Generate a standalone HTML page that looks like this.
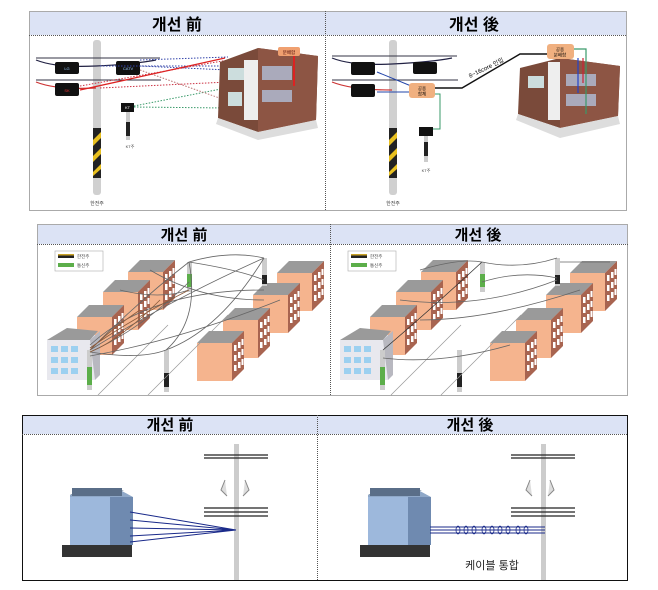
<!DOCTYPE html>
<html><head><meta charset="utf-8"><style>
html,body{margin:0;padding:0;background:#fff;}
svg{display:block;font-family:"Liberation Sans","Noto Sans CJK KR",sans-serif;}
</style></head><body>
<svg width="658" height="590" viewBox="0 0 658 590" xmlns="http://www.w3.org/2000/svg">
<defs>
<g id="cube">
  <polygon points="0,0 12,-12 47,-12 35,0" fill="#9a9a9a"/>
  <rect x="0" y="0" width="35" height="38" fill="#f5b48e"/>
  <polygon points="35,0 47,-12 47,26 35,38" fill="#a86450"/>
  <g fill="#fff">
    <rect x="37" y="2" width="2.5" height="6"/><rect x="41" y="-1" width="2.5" height="6"/><rect x="44.5" y="-4" width="2" height="6"/>
    <rect x="37" y="12" width="2.5" height="6"/><rect x="41" y="9" width="2.5" height="6"/><rect x="44.5" y="6" width="2" height="6"/>
    <rect x="37" y="22" width="2.5" height="6"/><rect x="41" y="19" width="2.5" height="6"/><rect x="44.5" y="16" width="2" height="6"/>
  </g>
</g>
<g id="p2">
  <rect x="17" y="6" width="48" height="20" fill="#fff" stroke="#aaa" stroke-width="0.6"/>
  <rect x="20" y="9" width="16" height="4" fill="#222"/><rect x="20" y="9" width="16" height="1.5" fill="#c9a227"/>
  <rect x="20" y="18" width="16" height="4" fill="#5cae4a"/>
  <text x="39" y="13" font-size="4.5" fill="#444">한전주</text><text x="39" y="22" font-size="4.5" fill="#444">통신주</text>
  <use href="#cube" x="90" y="27"/>
  <use href="#cube" x="65" y="47"/>
  <use href="#cube" x="39" y="72"/>
  <use href="#cube" x="239" y="28"/>
  <use href="#cube" x="215" y="50"/>
  <use href="#cube" x="185" y="75"/>
  <use href="#cube" x="159" y="98"/>
  <polygon points="9,95 29,83 57,90 57,135 9,135" fill="#e8e8ee"/>
  <polygon points="9,95 29,83 60,86 52,95" fill="#9a9a9a"/>
  <polygon points="52,95 62,86 62,130 57,135" fill="#b8b8c0"/>
  <g fill="#9cd0f0"><rect x="13" y="101" width="7" height="6"/><rect x="23" y="101" width="7" height="6"/><rect x="33" y="101" width="7" height="6"/>
  <rect x="13" y="112" width="7" height="6"/><rect x="23" y="112" width="7" height="6"/><rect x="33" y="112" width="7" height="6"/>
  <rect x="13" y="123" width="7" height="6"/><rect x="23" y="123" width="7" height="6"/><rect x="33" y="123" width="7" height="6"/></g>
  <rect x="49" y="105" width="5" height="40" fill="#ccc"/><rect x="49" y="122" width="5" height="18" fill="#5cae4a"/>
  <rect x="149" y="17" width="5" height="30" fill="#ccc"/><rect x="149" y="29" width="5" height="13" fill="#5cae4a"/>
  <rect x="224" y="13" width="5" height="28" fill="#ccc"/><rect x="224" y="30" width="5" height="9" fill="#222"/>
  <rect x="126" y="105" width="5" height="42" fill="#ccc"/><rect x="126" y="128" width="5" height="14" fill="#222"/>
  <g stroke="#999" stroke-width="0.7" fill="none">
    <line x1="60" y1="150" x2="130" y2="80"/><line x1="110" y1="150" x2="190" y2="70"/>
  </g>
</g>
</defs>

<!-- Panel 1 -->
<rect x="29.5" y="11.5" width="597" height="199" fill="#fff" stroke="#555" stroke-dasharray="1,1"/>
<rect x="30" y="12" width="596" height="23" fill="#dce3f5"/>
<line x1="29" y1="35.5" x2="627" y2="35.5" stroke="#555" stroke-dasharray="1,1"/>
<line x1="325.5" y1="11" x2="325.5" y2="210" stroke="#555" stroke-dasharray="1,1"/>
<text x="177" y="30" font-size="16" font-weight="bold" text-anchor="middle">개선 前</text>
<text x="474" y="30" font-size="16" font-weight="bold" text-anchor="middle">개선 後</text>

<!-- P1 left -->
<rect x="93" y="40" width="8" height="155" rx="3" fill="#d0d0d0"/>
<path d="M93 128h8v50h-8z" fill="#222"/><path d="M93 140l8-8v6l-8 8zM93 156l8-8v6l-8 8zM93 172l8-8v5l-8 7z" fill="#e8c020"/>
<text x="97" y="205" font-size="5" text-anchor="middle" fill="#444">한전주</text>
<path d="M36 58h124M36 80h125" stroke="#334" stroke-width="1"/>
<path d="M36 60q20 8 60 6t60-6" stroke="#224" fill="none" stroke-width="1.2"/>
<path d="M36 82q20 8 60 6" stroke="#c33" fill="none" stroke-width="1.2"/>
<rect x="55" y="62" width="24" height="12" rx="2" fill="#111"/><text x="67" y="70" font-size="4" fill="#9cf" text-anchor="middle">LG</text>
<rect x="116" y="61" width="24" height="14" rx="2" fill="#111"/><text x="128" y="70" font-size="4" fill="#9cf" text-anchor="middle">CATV</text>
<rect x="55" y="83" width="24" height="13" rx="2" fill="#111"/><text x="67" y="92" font-size="4" fill="#e33" text-anchor="middle">SK</text>
<rect x="121" y="103" width="13" height="9" fill="#111"/><text x="127.5" y="109" font-size="4" fill="#fff" text-anchor="middle">KT</text>
<rect x="126" y="112" width="4" height="28" fill="#ccc"/><path d="M126 122h4v14h-4z" fill="#222"/>
<text x="130" y="148" font-size="4" text-anchor="middle" fill="#444">KT주</text>
<g fill="none" stroke-width="1" stroke-dasharray="1.5,1.5">
<path d="M140 60L228 57M140 66L228 70M100 66L228 66" stroke="#3344aa"/>
<path d="M80 86L228 60M100 88L228 82" stroke="#cc3344"/>
<path d="M134 106L226 88M134 107L226 108" stroke="#3a9a6a"/>
<path d="M140 70L225 100" stroke="#b77"/>
</g>
<path d="M80 90L225 58" stroke="#d22" stroke-width="1.3" fill="none"/>
<polygon points="220,62 258,48 318,56 316,120 258,132 218,118" fill="#7a4a3a"/>
<polygon points="258,48 318,56 316,120 258,132" fill="#8d5544"/>
<rect x="228" y="68" width="20" height="12" fill="#cdd"/><rect x="262" y="66" width="30" height="14" fill="#aab"/>
<rect x="262" y="90" width="30" height="12" fill="#aab"/><rect x="228" y="92" width="14" height="14" fill="#cdd"/>
<rect x="244" y="60" width="14" height="60" fill="#eee"/>
<polygon points="218,118 258,132 316,120 318,128 258,140 216,124" fill="#ddd"/>
<rect x="278" y="47" width="22" height="9" rx="2" fill="#f0a070"/><text x="289" y="54" font-size="4.5" text-anchor="middle" fill="#400">분배함</text>
<rect x="293" y="56" width="2" height="30" fill="#d22"/>

<!-- P1 right -->
<rect x="389" y="40" width="8" height="155" rx="3" fill="#d0d0d0"/>
<path d="M389 128h8v50h-8z" fill="#222"/><path d="M389 140l8-8v6l-8 8zM389 156l8-8v6l-8 8zM389 172l8-8v5l-8 7z" fill="#e8c020"/>
<text x="393" y="205" font-size="5" text-anchor="middle" fill="#444">한전주</text>
<path d="M332 56h125M332 80h126" stroke="#334" stroke-width="1"/>
<path d="M332 58q20 8 60 6t60-6" stroke="#224" fill="none" stroke-width="1.2"/>
<path d="M332 82q20 8 60 8" stroke="#c33" fill="none" stroke-width="1.2"/>
<rect x="351" y="62" width="24" height="13" rx="2" fill="#111"/>
<rect x="413" y="62" width="24" height="12" rx="2" fill="#111"/>
<rect x="351" y="84" width="24" height="13" rx="2" fill="#111"/>
<path d="M377 72L416 88M377 92L410 92" stroke="#2244aa" stroke-width="1" fill="none"/>
<rect x="409" y="83" width="26" height="15" rx="3" fill="#f0b080"/><text x="422" y="90" font-size="4.5" text-anchor="middle">공용</text><text x="422" y="95.5" font-size="4.5" text-anchor="middle">함체</text>
<path d="M435 88L462 88L520 54L550 54" stroke="#111" stroke-width="1.4" fill="none"/>
<text x="470" y="78" font-size="6" transform="rotate(-26 470 78)">8~16core 인입</text>
<path d="M435 94h5v35h-10" stroke="#3a9a6a" stroke-width="1" fill="none"/>
<rect x="419" y="127" width="14" height="9" fill="#111"/>
<rect x="424" y="136" width="4" height="26" fill="#ccc"/><path d="M424 142h4v14h-4z" fill="#222"/>
<text x="426" y="172" font-size="4" text-anchor="middle" fill="#444">KT주</text>
<polygon points="520,68 560,58 620,66 618,116 560,128 518,114" fill="#7a4a3a"/>
<polygon points="560,58 620,66 618,116 560,128" fill="#8d5544"/>
<rect x="548" y="62" width="12" height="58" fill="#eee"/><rect x="528" y="76" width="16" height="12" fill="#cdd"/>
<rect x="566" y="74" width="30" height="12" fill="#aab"/><rect x="566" y="94" width="30" height="12" fill="#aab"/>
<polygon points="518,114 560,128 618,116 620,124 560,138 516,120" fill="#ddd"/>
<rect x="547" y="44" width="27" height="15" rx="3" fill="#f0b080"/><text x="560" y="51" font-size="4.5" text-anchor="middle">공용</text><text x="560" y="56.5" font-size="4.5" text-anchor="middle">분배함</text>
<path d="M574 49h12v65" stroke="#3a9a6a" stroke-width="1.2" fill="none"/>
<path d="M578 58v35" stroke="#2244cc" stroke-width="1.2"/><path d="M583 58v25" stroke="#cc2233" stroke-width="1.2"/>

<!-- Panel 2 -->
<rect x="37.5" y="224.5" width="590" height="171" fill="#fff" stroke="#555" stroke-dasharray="1,1"/>
<use href="#p2" x="38" y="245"/>
<use href="#p2" x="331" y="245"/>
<rect x="38" y="225" width="589" height="19" fill="#dce3f5"/>
<line x1="37" y1="244.5" x2="628" y2="244.5" stroke="#555" stroke-dasharray="1,1"/>
<line x1="330.5" y1="224" x2="330.5" y2="396" stroke="#555" stroke-dasharray="1,1"/>
<text x="184" y="240" font-size="15" font-weight="bold" text-anchor="middle">개선 前</text>
<text x="478" y="240" font-size="15" font-weight="bold" text-anchor="middle">개선 後</text>
<g stroke="#666" stroke-width="0.8" fill="none">
<path d="M90 350Q140 300 189 262M90 350Q170 300 264 258M90 352Q140 330 189 282M90 352Q140 360 166 350M189 262Q230 250 264 258M189 262Q200 320 166 350M264 258Q220 330 166 350M90 345Q150 290 264 290M120 290Q160 300 189 290M150 270Q200 300 264 300M90 356Q180 340 280 300M189 262Q240 270 264 280"/>
<path d="M90 350Q110 330 140 310M90 352Q120 340 160 300M90 348Q130 320 189 290" stroke="#8a5a3a"/>
<path d="M383 350Q430 310 482 262" stroke="#333"/>
<path d="M420 270Q460 258 482 262Q520 270 557 258M482 282Q520 270 557 278M400 300Q480 310 557 280M420 320Q490 320 580 290M383 358Q440 365 510 345M560 262Q590 262 610 262"/>
</g>

<!-- Panel 3 -->
<rect x="22.5" y="415.5" width="605" height="165" fill="#fff" stroke="#111"/>
<rect x="23" y="416" width="604" height="18" fill="#dce3f5"/>
<line x1="22" y1="434.5" x2="628" y2="434.5" stroke="#555" stroke-dasharray="1,1"/>
<line x1="317.5" y1="415" x2="317.5" y2="581" stroke="#555" stroke-dasharray="1,1"/>
<text x="170" y="430" font-size="15" font-weight="bold" text-anchor="middle">개선 前</text>
<text x="470" y="430" font-size="15" font-weight="bold" text-anchor="middle">개선 後</text>
<g id="bld3">
<rect x="62" y="545" width="70" height="12" fill="#333"/>
<polygon points="70,495 80,490 120,490 133,497 133,545 70,545" fill="#8fa8c8"/>
<polygon points="70,495 84,490 124,490 110,495" fill="#607890"/>
<rect x="70" y="497" width="40" height="48" fill="#9db8dc"/>
<rect x="110" y="497" width="23" height="48" fill="#6f8ab0"/>
<rect x="72" y="488" width="50" height="8" fill="#5a6e88"/>
</g>
<rect x="234" y="444" width="5" height="136" fill="#ccc"/>
<path d="M204 455h64M204 458h64M204 508h64M204 512h64M204 516h64" stroke="#222" stroke-width="1.3"/>
<path d="M225 480l-4 10 6 6M245 480l4 10-6 6" stroke="#888" fill="#ddd"/>
<g stroke="#1a2a8a" stroke-width="1"><path d="M130 512L236 530M130 520L236 530M130 528L236 530M130 536L236 530M130 542L236 530"/></g>
<use href="#bld3" x="298" y="0"/>
<rect x="541" y="444" width="5" height="136" fill="#ccc"/>
<path d="M511 455h64M511 458h64M511 508h64M511 512h64M511 516h64" stroke="#222" stroke-width="1.3"/>
<path d="M530 480l-4 10 6 6M550 480l4 10-6 6" stroke="#888" fill="#ddd"/>
<g stroke="#1a2a8a" stroke-width="1"><path d="M430 527H545M430 530H545M430 533H545"/></g>
<g fill="none" stroke="#1a2a8a" stroke-width="0.8">
<ellipse cx="458" cy="530" rx="2" ry="4"/><ellipse cx="466" cy="530" rx="2" ry="4"/><ellipse cx="474" cy="530" rx="2" ry="4"/><ellipse cx="484" cy="530" rx="2" ry="4"/><ellipse cx="492" cy="530" rx="2" ry="4"/><ellipse cx="500" cy="530" rx="2" ry="4"/><ellipse cx="508" cy="530" rx="2" ry="4"/><ellipse cx="518" cy="530" rx="2" ry="4"/><ellipse cx="526" cy="530" rx="2" ry="4"/></g>
<text x="492" y="569" font-size="11" text-anchor="middle" fill="#222">케이블 통합</text>
</svg>
</body></html>
